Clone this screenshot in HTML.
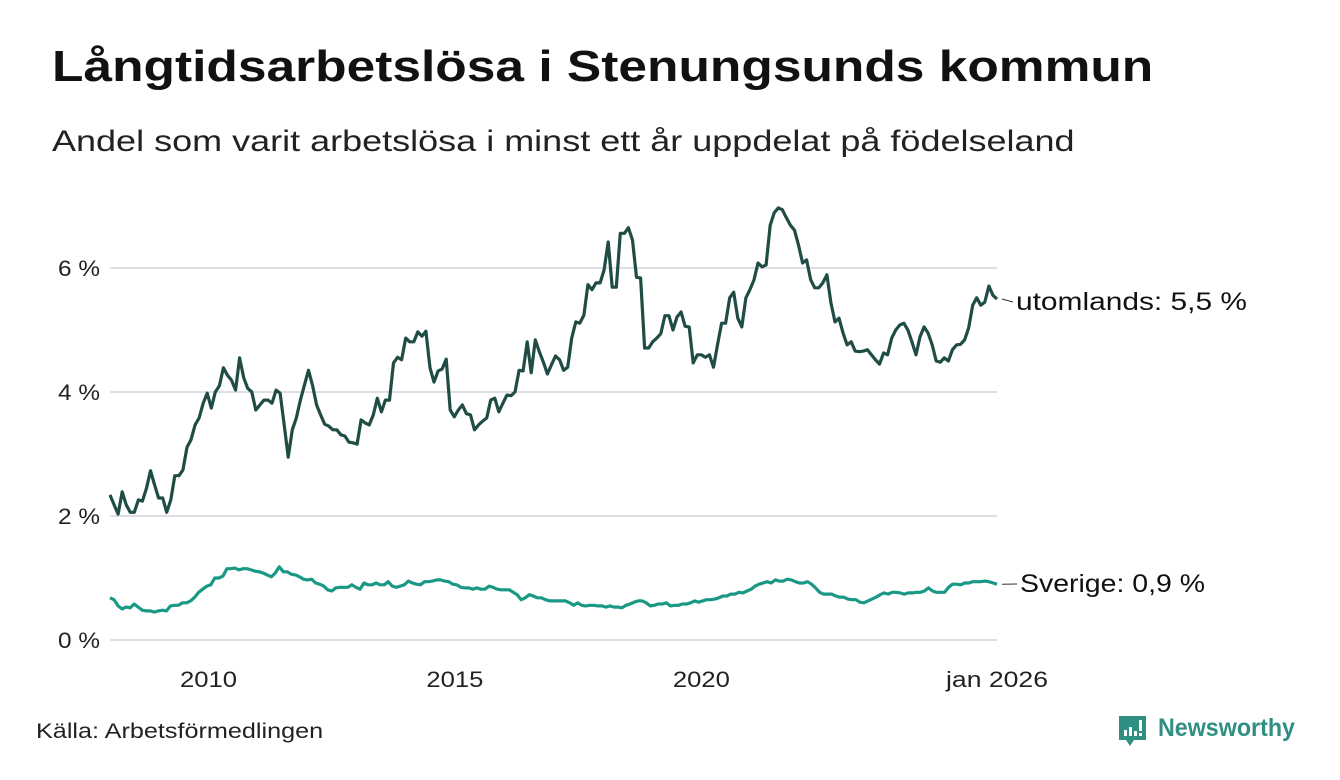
<!DOCTYPE html>
<html><head><meta charset="utf-8"><style>
body{margin:0;width:1340px;height:780px;background:#fff;font-family:"Liberation Sans","DejaVu Sans",sans-serif;color:#111;overflow:hidden;position:relative}
.t{position:absolute;white-space:nowrap;transform-origin:0 0}
</style></head><body>
<div class="t" style="left:52px;top:42px;font-size:44px;font-weight:bold;transform:scaleX(1.17)">Långtidsarbetslösa i Stenungsunds kommun</div>
<div class="t" style="left:52px;top:125px;font-size:30px;color:#222;transform:scaleX(1.2)">Andel som varit arbetslösa i minst ett år uppdelat på födelseland</div>
<svg id="chart" width="1340" height="780" style="position:absolute;left:0;top:0" font-family="Liberation Sans, DejaVu Sans, sans-serif"></svg>
<div class="t" style="left:36px;top:720px;font-size:21px;color:#222;transform:scaleX(1.2)">Källa: Arbetsförmedlingen</div>
<div style="position:absolute;left:1118px;top:714px;width:190px;height:36px">
<svg width="30" height="36" style="position:absolute;left:0;top:0"><path d="M1 2h27v24h-12l-4 6-4-6H1z" fill="#2f8f83"/><rect x="6" y="16" width="3" height="6" fill="#fff"/><rect x="11" y="13" width="3" height="9" fill="#fff"/><rect x="16" y="17" width="3" height="5" fill="#fff"/><rect x="21" y="6" width="3" height="11" fill="#fff"/><rect x="21" y="19" width="3" height="3" fill="#fff"/></svg>
<div class="t" style="left:40px;top:0px;font-size:25px;font-weight:bold;color:#2f8f83;transform:scaleX(0.93)">Newsworthy</div></div>
<script>
const yTicks=[0,2,4,6];
const yTickLabels=["0 %","2 %","4 %","6 %"];
const xTicks=[2010,2015,2020,2026];
const xTickLabels=["2010","2015","2020","jan 2026"];
const utomlands=[2.34,2.18,2.03,2.39,2.18,2.06,2.06,2.26,2.24,2.45,2.73,2.50,2.29,2.29,2.06,2.26,2.65,2.65,2.74,3.11,3.23,3.47,3.58,3.82,3.98,3.74,4.00,4.10,4.39,4.27,4.19,4.03,4.55,4.23,4.06,4.00,3.71,3.79,3.87,3.87,3.82,4.03,3.98,3.47,2.95,3.39,3.58,3.87,4.11,4.35,4.11,3.79,3.63,3.48,3.45,3.39,3.39,3.31,3.29,3.19,3.18,3.16,3.55,3.50,3.47,3.63,3.90,3.68,3.87,3.87,4.47,4.56,4.52,4.87,4.81,4.81,4.97,4.90,4.98,4.39,4.16,4.34,4.37,4.53,3.71,3.60,3.71,3.79,3.65,3.63,3.39,3.47,3.53,3.58,3.87,3.90,3.68,3.82,3.95,3.94,4.00,4.35,4.34,4.81,4.31,4.84,4.65,4.48,4.29,4.44,4.58,4.52,4.35,4.40,4.87,5.13,5.11,5.24,5.73,5.65,5.76,5.76,5.97,6.42,5.69,5.69,6.56,6.56,6.65,6.45,5.85,5.84,4.71,4.71,4.81,4.87,4.94,5.23,5.23,5.00,5.21,5.29,5.06,5.05,4.47,4.60,4.60,4.56,4.60,4.40,4.76,5.11,5.11,5.52,5.61,5.19,5.05,5.52,5.65,5.81,6.08,6.02,6.05,6.69,6.89,6.97,6.94,6.81,6.69,6.61,6.37,6.08,6.13,5.81,5.68,5.68,5.76,5.89,5.44,5.13,5.19,4.95,4.76,4.81,4.66,4.65,4.66,4.68,4.60,4.52,4.45,4.63,4.60,4.87,5.00,5.08,5.11,5.00,4.81,4.60,4.89,5.05,4.95,4.76,4.50,4.48,4.55,4.50,4.68,4.76,4.77,4.84,5.03,5.40,5.52,5.40,5.45,5.71,5.56,5.50];
const sverige=[0.68,0.65,0.55,0.50,0.53,0.52,0.58,0.53,0.48,0.47,0.47,0.45,0.47,0.48,0.47,0.55,0.56,0.56,0.60,0.60,0.63,0.69,0.77,0.82,0.87,0.89,1.00,1.00,1.03,1.15,1.15,1.16,1.13,1.15,1.15,1.13,1.11,1.10,1.08,1.05,1.02,1.08,1.18,1.10,1.10,1.06,1.05,1.02,0.98,0.97,0.98,0.92,0.90,0.87,0.81,0.79,0.84,0.85,0.85,0.85,0.89,0.85,0.82,0.92,0.89,0.89,0.92,0.89,0.89,0.94,0.87,0.85,0.87,0.89,0.95,0.92,0.90,0.89,0.94,0.94,0.95,0.97,0.97,0.95,0.94,0.90,0.89,0.85,0.84,0.84,0.82,0.84,0.82,0.82,0.87,0.85,0.82,0.81,0.81,0.81,0.77,0.73,0.65,0.68,0.73,0.71,0.68,0.68,0.65,0.63,0.63,0.63,0.63,0.63,0.60,0.56,0.60,0.56,0.55,0.56,0.56,0.55,0.55,0.53,0.55,0.53,0.53,0.52,0.56,0.58,0.61,0.63,0.63,0.60,0.55,0.56,0.58,0.58,0.60,0.55,0.56,0.56,0.58,0.58,0.60,0.63,0.61,0.63,0.65,0.65,0.66,0.68,0.71,0.71,0.74,0.74,0.77,0.76,0.79,0.82,0.87,0.90,0.92,0.94,0.92,0.97,0.95,0.95,0.98,0.97,0.94,0.92,0.92,0.94,0.90,0.84,0.77,0.74,0.74,0.74,0.71,0.69,0.69,0.66,0.65,0.65,0.61,0.60,0.63,0.66,0.69,0.73,0.76,0.74,0.77,0.77,0.76,0.74,0.76,0.76,0.77,0.77,0.79,0.84,0.79,0.77,0.77,0.77,0.85,0.90,0.90,0.89,0.92,0.92,0.94,0.94,0.94,0.95,0.94,0.92,0.90];
const svg=document.getElementById('chart');
const NS='http://www.w3.org/2000/svg';
const X0=110,X1=997,Y0=640,PXPCT=62,START=2008,END=2026;
function xs(yr){return X0+(yr-START)/(END-START)*(X1-X0);}
function ys(v){return Y0-v*PXPCT;}
function mk(tag,attrs){const e=document.createElementNS(NS,tag);for(const k in attrs)e.setAttribute(k,attrs[k]);svg.appendChild(e);return e;}
yTicks.forEach((t,i)=>{
 const g=mk('line',{x1:X0,x2:X1,y1:ys(t),y2:ys(t),stroke:'#dedee6','stroke-width':2});
 
 
 const l=mk('text',{x:100,y:ys(t)+8,'text-anchor':'end','font-size':22,fill:'#222',textLength:42,lengthAdjust:'spacingAndGlyphs'});
 l.textContent=yTickLabels[i];
 
 
});
xTicks.forEach((t,i)=>{
 const w=xTickLabels[i].length>4?102:57;
 const l=mk('text',{x:xs(t),y:687,'text-anchor':'middle','font-size':22,fill:'#222',textLength:w,lengthAdjust:'spacingAndGlyphs'});
 l.textContent=xTickLabels[i];
 
 
});
function series(arr,color,name,label,ly,lx,lw){
 const n=arr.length;
 const pts=arr.map((v,i)=>xs(START+(END-START)*i/(n-1)).toFixed(1)+','+ys(v).toFixed(1)).join(' ');
 const p=mk('polyline',{points:pts,fill:'none',stroke:color,'stroke-width':3.2,'stroke-linejoin':'round'});
 
 
 const last=ys(arr[n-1]);
 const d=mk('line',{x1:1002,x2:lx-3,y1:last,y2:ly-8,stroke:'#333','stroke-width':1});
 
 
 const t=mk('text',{x:lx,y:ly,'font-size':25,fill:'#111',textLength:lw,lengthAdjust:'spacingAndGlyphs'});
 t.textContent=label;
 
 
}
series(utomlands,'#1f4d45','utomlands','utomlands: 5,5 %',310,1016,231);
series(sverige,'#1a9886','sverige','Sverige: 0,9 %',592,1020,185);
</script>
</body></html>
